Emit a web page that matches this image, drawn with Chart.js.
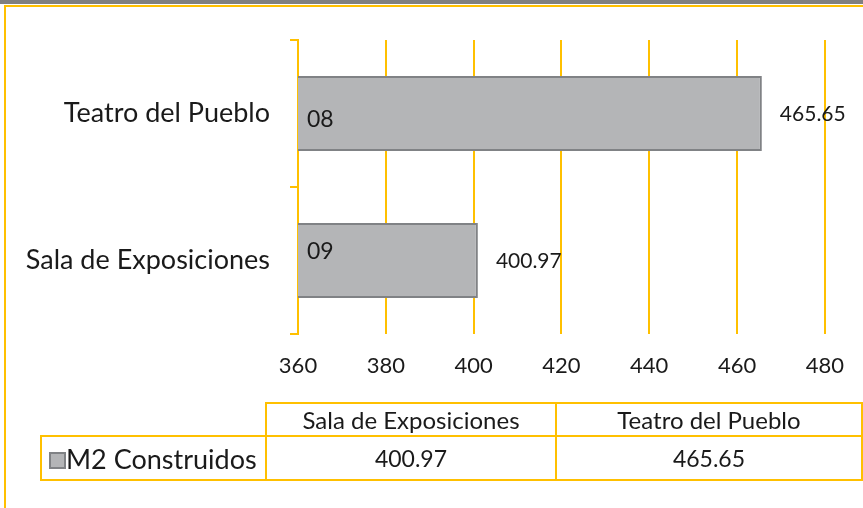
<!DOCTYPE html>
<html>
<head>
<meta charset="utf-8">
<script src="https://cdn.jsdelivr.net/npm/chart.js@4/dist/chart.umd.min.js"></script>
<style>
  html, body { margin: 0; padding: 0; background: #fff; }
  #wrap { position: relative; width: 863px; height: 508px; overflow: hidden; font-family: Lato, sans-serif; }
  #topband { position: absolute; left: 0; top: 0; width: 863px; height: 4px; background: #808080; }
  #frameTop { position: absolute; left: 4px; top: 5px; width: 859px; height: 2px; background: #FFC000; }
  #frameLeft { position: absolute; left: 4px; top: 5px; width: 2px; height: 503px; background: #FFC000; }
  canvas { position: absolute; left: 0; top: 0; }
  #tbl { position: absolute; border-collapse: collapse; color: #1a1a1a; }
  #tbl td { border: 2px solid #FFC000; text-align: center; padding: 0; white-space: nowrap; }
  #tbl td.blank { border: none; }
  #tbl .hdr { font-size: 24px; }
  #tbl .val { font-size: 23px; }
  #tbl .series { font-size: 27px; text-align: left; padding-left: 7px; }
  #tbl .key { display: inline-block; width: 13px; height: 13px; background: #B4B5B7; border: 2px solid #808285; vertical-align: 0px; }
</style>
</head>
<body>
<div id="wrap">
  <div id="topband"></div>
  <div id="frameTop"></div>
  <div id="frameLeft"></div>
  <canvas id="c" width="863" height="508"></canvas>
  <table id="tbl"></table>
</div>
<script>
// Built area per venue (m²)
const categories = ['Teatro del Pueblo', 'Sala de Exposiciones'];
const m2Construidos = [465.65, 400.97];
const codes = ['08', '09'];
const seriesName = 'M2 Construidos';
const xTicks = [360, 380, 400, 420, 440, 460, 480];

const GOLD = '#FFC000';
const TEXT = '#1a1a1a';
const FONT = 'Lato, sans-serif';

// vertical nudges for the code tags inside each bar
const codeNudge = [6, -9];

const barLabels = {
  id: 'barLabels',
  afterDatasetsDraw(chart) {
    const ctx = chart.ctx;
    const meta = chart.getDatasetMeta(0);
    const left = chart.scales.x.getPixelForValue(xTicks[0]);
    ctx.save();
    ctx.fillStyle = TEXT;
    ctx.textBaseline = 'middle';
    ctx.textAlign = 'left';
    meta.data.forEach((bar, i) => {
      ctx.font = '21px ' + FONT;
      ctx.fillText(m2Construidos[i].toFixed(2), bar.x + 18, bar.y + 1);
      ctx.font = '23px ' + FONT;
      ctx.fillText(codes[i], left + 9, bar.y + codeNudge[i]);
    });
    ctx.restore();
  }
};

new Chart(document.getElementById('c'), {
  type: 'bar',
  data: {
    labels: categories,
    datasets: [{
      label: seriesName,
      data: m2Construidos,
      backgroundColor: '#B4B5B7',
      borderColor: '#808285',
      borderWidth: 2,
      borderSkipped: 'left',
      categoryPercentage: 1,
      barPercentage: 0.51
    }]
  },
  options: {
    indexAxis: 'y',
    responsive: false,
    animation: false,
    layout: { padding: { left: 0, right: 37, top: 40, bottom: 0 } },
    plugins: { legend: { display: false }, tooltip: { enabled: false } },
    scales: {
      x: {
        min: xTicks[0],
        max: xTicks[xTicks.length - 1],
        afterBuildTicks(scale) { scale.ticks = xTicks.map(v => ({ value: v })); },
        afterFit(scale) { scale.height = 508 - 334; },
        grid: { color: GOLD, lineWidth: 2, drawTicks: false },
        border: { display: false },
        ticks: { color: TEXT, font: { family: FONT, size: 22 }, padding: 19 }
      },
      y: {
        afterFit(scale) { scale.width = 298; },
        grid: { offset: true, drawOnChartArea: false, drawTicks: true, tickLength: 8, color: GOLD, lineWidth: 2 },
        border: { display: true, color: GOLD, width: 2 },
        ticks: { color: TEXT, font: { family: FONT, size: 27 }, padding: 20 }
      }
    }
  },
  plugins: [barLabels]
});

// data table under the chart (columns in axis order, bottom to top)
(function buildTable() {
  const tbl = document.getElementById('tbl');
  tbl.style.left = '40px';
  tbl.style.top = '402px';
  const order = categories.map((_, i) => i).reverse();
  const widths = [225, 290, 306];
  let html = '<colgroup>' + widths.map(w => '<col style="width:' + w + 'px">').join('') + '</colgroup>';
  html += '<tr style="height:33px"><td class="blank"></td>' +
    order.map(i => '<td class="hdr">' + categories[i] + '</td>').join('') + '</tr>';
  html += '<tr style="height:44px"><td class="series"><span class="key"></span>' + seriesName + '</td>' +
    order.map(i => '<td class="val">' + m2Construidos[i].toFixed(2) + '</td>').join('') + '</tr>';
  tbl.innerHTML = html;
})();
</script>
</body>
</html>
